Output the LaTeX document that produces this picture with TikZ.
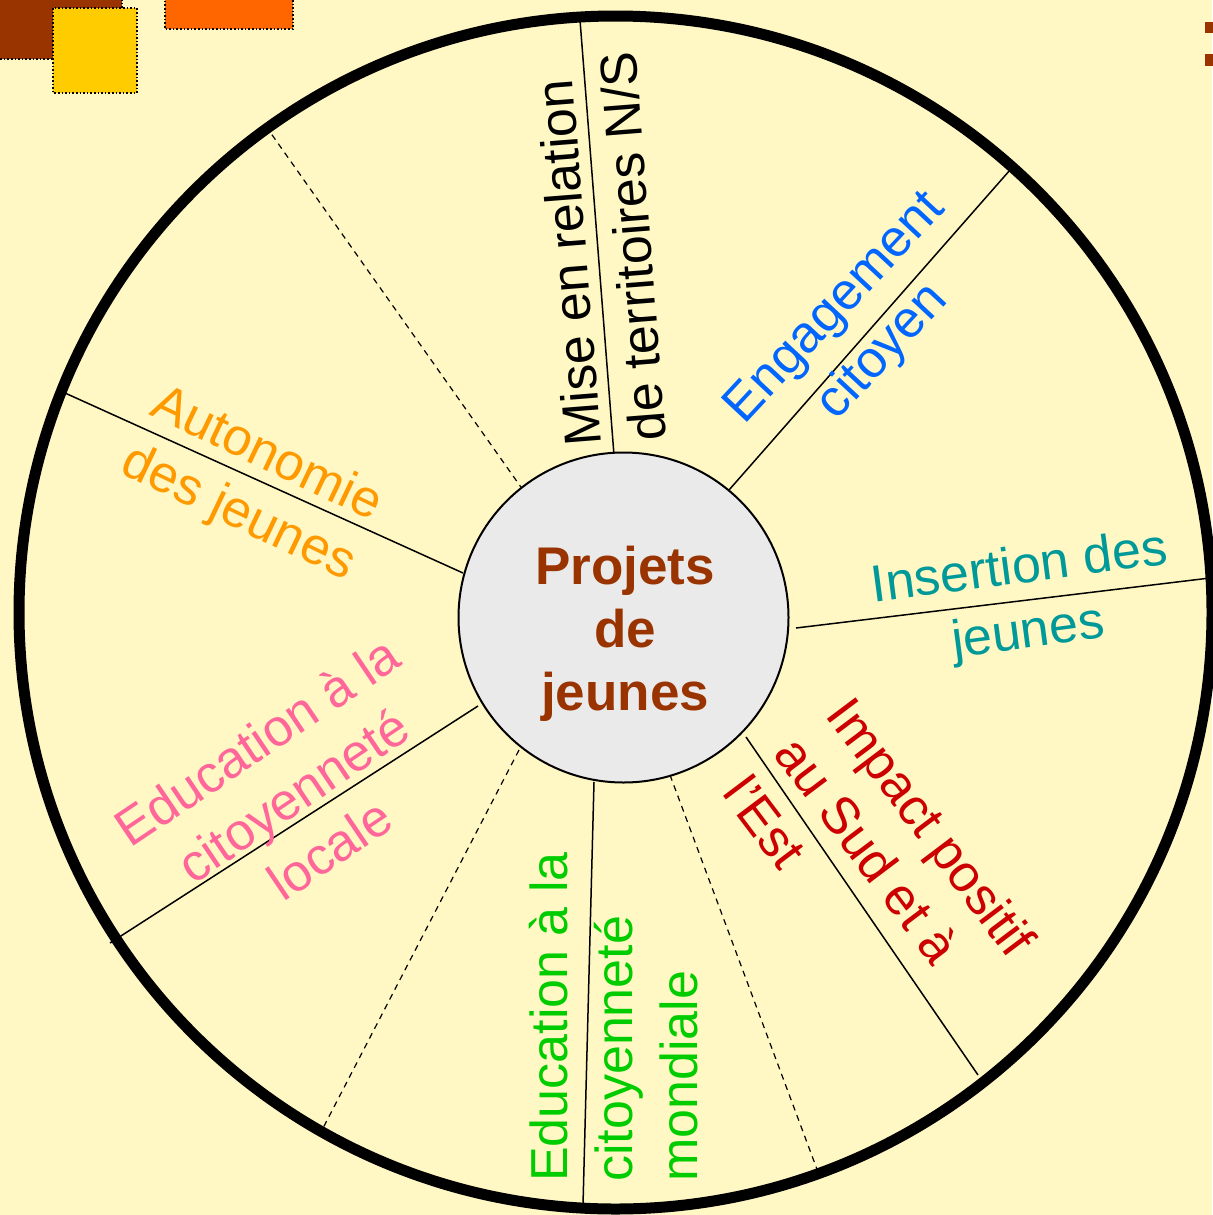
\documentclass[tikz,border=0pt]{standalone}
\usepackage{fontspec}
\setmainfont{Liberation Sans}
\definecolor{bg}{HTML}{FFF8C4}
\definecolor{hubfill}{HTML}{EAEAEA}
\definecolor{brownc}{HTML}{993300}
\definecolor{yel}{HTML}{FFCC00}
\definecolor{orng}{HTML}{FF6600}
\definecolor{cblue}{HTML}{0066FF}
\definecolor{cteal}{HTML}{009999}
\definecolor{cred}{HTML}{CC0000}
\definecolor{cgreen}{HTML}{00CC00}
\definecolor{cpink}{HTML}{FF6699}
\definecolor{corange}{HTML}{FF9900}
\begin{document}
\begin{tikzpicture}[x=0.5pt,y=-0.5pt,
  lbl/.style={font=\fontsize{26}{32.5}\selectfont, inner sep=0pt},
  solidspoke/.style={line width=0.75pt},
  dashspoke/.style={line width=0.6pt, dash pattern=on 3pt off 2.5pt},
  deco/.style={draw=black, line width=0.8pt, densely dotted}]
\useasboundingbox (0,0) rectangle (1212,1215);
\fill[bg] (0,0) rectangle (1212,1215);
% decorative squares
\filldraw[deco, fill=brownc] (-10,-10) rectangle (122,59);
\filldraw[deco, fill=yel] (53,8) rectangle (137,93);
\filldraw[deco, fill=orng] (165,-10) rectangle (293,29);
\fill[brownc] (1205,22) rectangle (1220,33);
\fill[brownc] (1205,54) rectangle (1220,66);
% outer circle
\draw[line width=5.5pt] (615.5,612.5) circle[radius=596.5];
% spokes
\coordinate (a1) at (614,455);  \coordinate (b1) at (580,20);
\coordinate (a2) at (523,490);  \coordinate (b2) at (270,132);
\coordinate (a3) at (463,573);  \coordinate (b3) at (65,393);
\coordinate (a4) at (478,706);  \coordinate (b4) at (110,943);
\coordinate (a5) at (519,750);  \coordinate (b5) at (322,1130);
\coordinate (a6) at (594,782);  \coordinate (b6) at (583,1205);
\coordinate (a7) at (670,775);  \coordinate (b7) at (818,1172);
\coordinate (a8) at (746,737);  \coordinate (b8) at (978,1075);
\coordinate (a9) at (796,628);  \coordinate (b9) at (1210,578);
\coordinate (a10) at (729,490); \coordinate (b10) at (1010,170);
\foreach \i in {1,3,4,6,8,9,10} \draw[solidspoke] (a\i) -- (b\i);
\foreach \i in {2,5,7} \draw[dashspoke] (a\i) -- (b\i);
% hub
\node[circle, draw, line width=1pt, fill=hubfill, minimum size=165pt, inner sep=0pt] (hub) at (623.5,617.5) {};
\node[font=\bfseries\fontsize{26.5}{31.5}\selectfont, text=brownc, align=center, inner sep=0pt] (ctr) at (625,634) {Projets\\de\\jeunes};
% labels
\node[lbl, rotate=94.5, align=left] (mise) at (600,249) {Mise en relation\\de territoires N/S};
\node[lbl, rotate=47, align=center, text=cblue] (eng) at (860,331) {Engagement\\citoyen};
\node[lbl, rotate=7.5, align=center, text=cteal] (ins) at (1024,602) {Insertion des\\jeunes};
\node[lbl, rotate=-53, align=left, text=cred] (imp) at (880,866) {Impact positif\\au Sud et à\\l’Est};
\node[lbl, rotate=90, align=left, text=cgreen] (edm) at (614,1017) {Education à la\\citoyenneté\\mondiale};
\node[lbl, rotate=34, align=center, text=cpink] (edl) at (293,795) {Education à la\\citoyenneté\\locale};
\node[lbl, rotate=-25.5, align=center, text=corange] (aut) at (252,485) {Autonomie\\des jeunes};
\end{tikzpicture}
\end{document}
